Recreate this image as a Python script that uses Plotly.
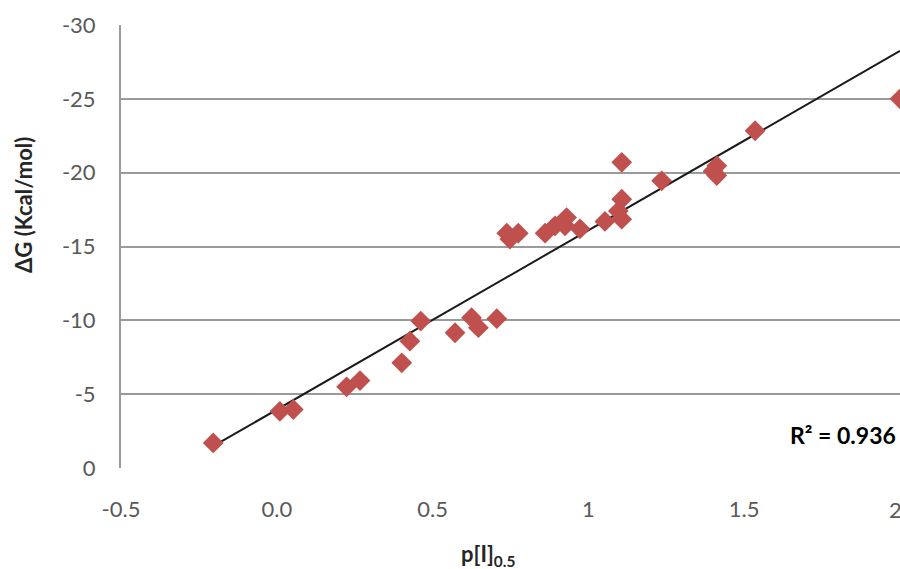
import numpy as np
import plotly.graph_objects as go

# Data
p_I = [-0.204, 0.010, 0.053, 0.224, 0.267, 0.401, 0.427, 0.462, 0.572, 0.625,
       0.647, 0.706, 0.748, 0.738, 0.775, 0.861, 0.893, 0.930, 0.925, 0.973,
       1.053, 1.107, 1.107, 1.096, 1.107, 1.235, 1.412, 1.412, 1.400, 1.535, 2.000]
delta_G = [-1.70, -3.84, -3.96, -5.50, -5.92, -7.12, -8.59, -9.95, -9.16, -10.18,
           -9.50, -10.11, -15.5, -15.9, -15.9, -15.9, -16.4, -16.96, -16.4, -16.2,
           -16.7, -20.7, -18.2, -17.4, -16.85, -19.45, -20.46, -19.8, -20.1, -22.84, -25.0]
r2_label = "R² = 0.936"
x_ticks = [-0.5, 0.0, 0.5, 1, 1.5]
x_tick_text = ["-0.5", "0.0", "0.5", "1", "1.5"]
x_edge_tick_text = "2"   # last tick label, sits at the clipped right edge
y_ticks = [0, -5, -10, -15, -20, -25, -30]
y_tick_text = ["0", "-5", "-10", "-15", "-20", "-25", "-30"]

x = np.array(p_I)
y = np.array(delta_G)
slope, intercept = np.polyfit(x, y, 1)
trend_x = np.array([x.min(), x.max()])
trend_y = slope * trend_x + intercept

font_family = "Lato, 'Open Sans', sans-serif"

FIG_W, FIG_H = 900, 569
L, T, B, R = 121, 25, 569 - 468, 0
PLOT_W = FIG_W - L - R
PLOT_H = FIG_H - T - B


def px_x(page_x):
    return (page_x - L) / PLOT_W


def px_y(page_y):
    return ((T + PLOT_H) - page_y) / PLOT_H


fig = go.Figure()
fig.add_trace(go.Scatter(
    x=trend_x, y=trend_y, mode="lines",
    line=dict(color="#1a1a1a", width=2), showlegend=False, hoverinfo="skip"))
fig.add_trace(go.Scatter(
    x=p_I, y=delta_G, mode="markers",
    marker=dict(symbol="diamond", size=16, color="#C0504D"),
    showlegend=False))

fig.update_layout(
    width=FIG_W, height=FIG_H,
    margin=dict(l=L, r=R, t=T, b=B),
    paper_bgcolor="white", plot_bgcolor="white",
    font=dict(family=font_family, size=15, color="#595959"),
    xaxis=dict(
        range=[-0.5, 2.0], tickvals=x_ticks, ticktext=x_tick_text,
        showgrid=False, zeroline=False, showline=False,
        ticks="", ticklabelstandoff=26,
        tickfont=dict(size=22, color="#595959"),
    ),
    yaxis=dict(
        range=[0, -30], tickvals=y_ticks, ticktext=y_tick_text,
        showgrid=True, gridcolor="#9a9a9a", gridwidth=1.8,
        zeroline=False, showline=True, linecolor="#9a9a9a", linewidth=2,
        ticks="", ticklabelstandoff=19,
        tickfont=dict(size=22, color="#595959"),
    ),
    annotations=[
        dict(text="<b>ΔG (Kcal/mol)</b>", textangle=-90, x=px_x(24), y=px_y(205),
             xref="paper", yref="paper", xanchor="center", yanchor="middle",
             showarrow=False, font=dict(size=22, color="#262626")),
        dict(text="<b>p[I]<sub>0.5</sub></b>", x=px_x(488), y=px_y(555),
             xref="paper", yref="paper", xanchor="center", yanchor="middle",
             showarrow=False, font=dict(size=22, color="#262626")),
        dict(text="<b>" + r2_label + "</b>", x=px_x(898), y=px_y(435),
             xref="paper", yref="paper", xanchor="right", yanchor="middle",
             showarrow=False, font=dict(size=23, color="#000000")),
        dict(text=x_edge_tick_text, x=px_x(887), y=px_y(510),
             xref="paper", yref="paper", xanchor="left", yanchor="middle",
             showarrow=False, font=dict(size=22, color="#595959")),
    ],
)

fig.write_html(
    "out.html",
    config={"displayModeBar": False},
    post_script="document.body.style.margin='0';document.body.style.overflow='hidden';",
)
